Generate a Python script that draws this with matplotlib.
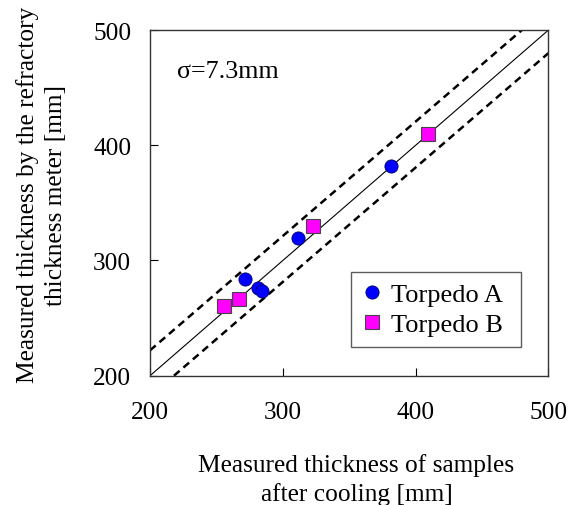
import matplotlib
matplotlib.use("Agg")
from matplotlib import pyplot as plt

plt.rcParams['font.family'] = ['Liberation Serif', 'DejaVu Serif']

# Torpedo A (circles)
a_samples = [271.5, 281.5, 284.5, 311.5, 381.5]
a_meter = [283.5, 276.3, 273.1, 319.5, 381.9]
# Torpedo B (squares)
b_samples = [256, 267, 322.5, 409]
b_meter = [260.5, 266.5, 329.8, 409.6]

# reference lines
ideal_x = [200, 500]
ideal_y = [200, 500]
upper_x = [200, 480]
upper_y = [222, 500]
lower_x = [218, 500]
lower_y = [200, 480]

sigma_text = "σ=7.3mm"

fig = plt.figure(figsize=(5.75, 5.06), dpi=100)
ax = fig.add_axes([0.2609, 0.2555, 0.693, 0.6832])

ax.plot(ideal_x, ideal_y, color='black', lw=0.8, zorder=1)
ax.plot(upper_x, upper_y, color='black', lw=1.8, ls=(0, (3, 2)), zorder=1)
ax.plot(lower_x, lower_y, color='black', lw=1.8, ls=(0, (3, 2)), zorder=1)

ax.plot(a_samples, a_meter, 'o', ms=9.5, mfc='#0000ff', mec='#000066',
        mew=0.6, label='Torpedo A', zorder=3)
ax.plot(b_samples, b_meter, 's', ms=9.5, mfc='#ff00ff', mec='#444444',
        mew=0.8, label='Torpedo B', zorder=3)

ax.set_xlim(200, 500)
ax.set_ylim(200, 500)
ax.set_xticks([200, 300, 400, 500])
ax.set_yticks([200, 300, 400, 500])
ax.tick_params(direction='in', length=6, labelsize=18.3,
               top=False, right=False)
ax.tick_params(axis='x', pad=18)
ax.tick_params(axis='y', pad=13.5)
for s in ax.spines.values():
    s.set_linewidth(1.0)
    s.set_color('#333333')

ax.text(0.068, 0.881, sigma_text, transform=ax.transAxes, fontsize=18.7,
        va='center', ha='left')

leg = ax.legend(loc='lower left', bbox_to_anchor=(0.505, 0.083, 0.427, 0.217),
                mode='expand', fontsize=19, frameon=True, fancybox=False,
                handletextpad=0.3, handlelength=0.8, borderpad=0.4,
                labelspacing=0.25, borderaxespad=0)
leg.get_frame().set_edgecolor('#333333')
leg.get_frame().set_linewidth(1.0)

ax.set_xlabel("Measured thickness of samples\nafter cooling [mm]", fontsize=18.3,
              labelpad=22, linespacing=1.3)
ax.xaxis.label.set_x(0.518)
ax.set_ylabel("Measured thickness by the refractory\nthickness meter [mm]",
              fontsize=18.3, labelpad=18.5, linespacing=1.35)
ax.yaxis.label.set_y(0.525)

fig.savefig("out.png", dpi=100)
